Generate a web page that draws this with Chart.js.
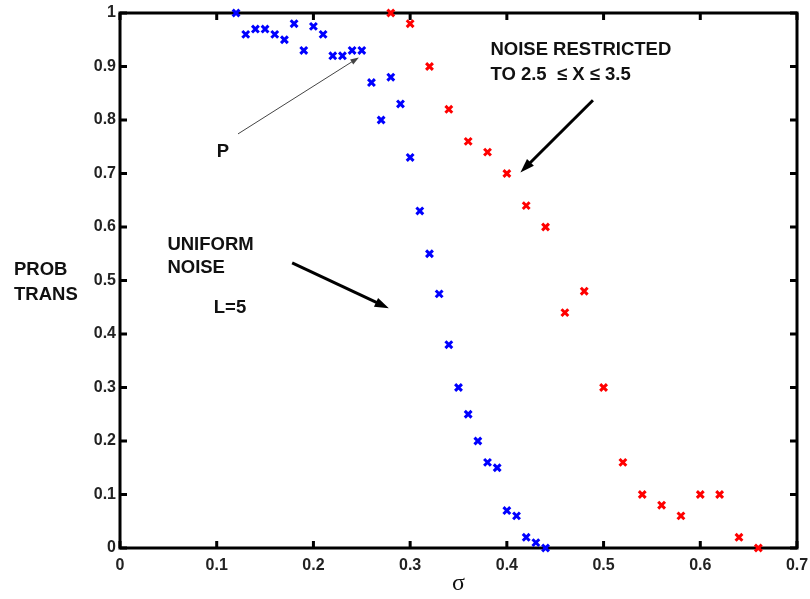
<!DOCTYPE html>
<html lang="en">
<head>
<meta charset="UTF-8">
<title>Prob trans vs sigma</title>
<script src="https://cdn.jsdelivr.net/npm/chart.js"></script>
<style>
  html, body { margin: 0; padding: 0; background: #fff; }
  #wrap { width: 810px; height: 599px; }
</style>
</head>
<body>
<div id="wrap"><canvas id="chart"></canvas></div>
<script>
// data
const uniformSigma = [0.12, 0.13, 0.14, 0.15, 0.16, 0.17, 0.18, 0.19, 0.20, 0.21, 0.22, 0.23, 0.24, 0.25,
                      0.26, 0.27, 0.28, 0.29, 0.30, 0.31, 0.32, 0.33, 0.34, 0.35, 0.36, 0.37, 0.38, 0.39,
                      0.40, 0.41, 0.42, 0.43, 0.44];
const uniformProb  = [1.00, 0.96, 0.97, 0.97, 0.96, 0.95, 0.98, 0.93, 0.975, 0.96, 0.92, 0.92, 0.93, 0.93,
                      0.87, 0.80, 0.88, 0.83, 0.73, 0.63, 0.55, 0.475, 0.38, 0.30, 0.25, 0.20, 0.16, 0.15,
                      0.07, 0.06, 0.02, 0.01, 0.00];
const restrictedSigma = [0.28, 0.30, 0.32, 0.34, 0.36, 0.38, 0.40, 0.42, 0.44, 0.46, 0.48, 0.50,
                         0.52, 0.54, 0.56, 0.58, 0.60, 0.62, 0.64, 0.66];
const restrictedProb  = [1.00, 0.98, 0.90, 0.82, 0.76, 0.74, 0.70, 0.64, 0.60, 0.44, 0.48, 0.30,
                         0.16, 0.10, 0.08, 0.06, 0.10, 0.10, 0.02, 0.00];
const xTicks = [0, 0.1, 0.2, 0.3, 0.4, 0.5, 0.6, 0.7];
const yTicks = [0, 0.1, 0.2, 0.3, 0.4, 0.5, 0.6, 0.7, 0.8, 0.9, 1];

// annotations, in data coordinates
const labels = [
  { text: 'P', x: 0.100, y: 0.740 },
  { text: 'UNIFORM', x: 0.049, y: 0.566 },
  { text: 'NOISE', x: 0.049, y: 0.523 },
  { text: 'L=5', x: 0.097, y: 0.449 },
  { text: 'NOISE RESTRICTED', x: 0.383, y: 0.931 },
  { text: 'TO 2.5  \u2264 X \u2264 3.5', x: 0.383, y: 0.884 }
];
const arrows = [
  { from: [0.122, 0.774], to: [0.247, 0.917], width: 1, head: 9, color: '#444' },
  { from: [0.178, 0.533], to: [0.278, 0.448], width: 3, head: 15, color: '#000' },
  { from: [0.489, 0.837], to: [0.414, 0.702], width: 3, head: 15, color: '#000' }
];

const toPoints = (xs, ys) => xs.map((v, i) => ({ x: v, y: ys[i] }));
const fmt = v => String(Number(v.toFixed(1)));
const tickFont = { family: '"Liberation Sans", Arial, sans-serif', size: 16, weight: 'bold' };
const textFont = 'bold 18.5px "Liberation Sans", Arial, sans-serif';

function drawArrow(ctx, x1, y1, x2, y2, w, head, color) {
  const ang = Math.atan2(y2 - y1, x2 - x1);
  ctx.strokeStyle = color;
  ctx.fillStyle = color;
  ctx.lineWidth = w;
  ctx.beginPath();
  ctx.moveTo(x1, y1);
  ctx.lineTo(x2 - Math.cos(ang) * head * 0.8, y2 - Math.sin(ang) * head * 0.8);
  ctx.stroke();
  ctx.beginPath();
  ctx.moveTo(x2, y2);
  ctx.lineTo(x2 - head * Math.cos(ang - 0.33), y2 - head * Math.sin(ang - 0.33));
  ctx.lineTo(x2 - head * Math.cos(ang + 0.33), y2 - head * Math.sin(ang + 0.33));
  ctx.closePath();
  ctx.fill();
}

const framePlugin = {
  id: 'frame',
  beforeDatasetsDraw(chart) {
    const { ctx, chartArea: a, scales: { x, y } } = chart;
    ctx.save();
    ctx.strokeStyle = '#000';
    ctx.lineWidth = 3;
    ctx.strokeRect(a.left, a.top, a.right - a.left, a.bottom - a.top);
    const len = 7;
    ctx.beginPath();
    xTicks.forEach(v => {
      const px = x.getPixelForValue(v);
      ctx.moveTo(px, a.bottom); ctx.lineTo(px, a.bottom - len);
      ctx.moveTo(px, a.top); ctx.lineTo(px, a.top + len);
    });
    yTicks.forEach(v => {
      const py = y.getPixelForValue(v);
      ctx.moveTo(a.left, py); ctx.lineTo(a.left + len, py);
      ctx.moveTo(a.right, py); ctx.lineTo(a.right - len, py);
    });
    ctx.stroke();
    ctx.restore();
  },
  afterDatasetsDraw(chart) {
    const { ctx, chartArea: a, scales: { x, y } } = chart;
    ctx.save();
    arrows.forEach(ar => drawArrow(ctx,
      x.getPixelForValue(ar.from[0]), y.getPixelForValue(ar.from[1]),
      x.getPixelForValue(ar.to[0]), y.getPixelForValue(ar.to[1]),
      ar.width, ar.head, ar.color));
    ctx.fillStyle = '#111';
    ctx.font = textFont;
    ctx.textAlign = 'left';
    ctx.textBaseline = 'middle';
    labels.forEach(l => ctx.fillText(l.text, x.getPixelForValue(l.x), y.getPixelForValue(l.y)));
    // y axis title, horizontal, left of the ticks
    ctx.fillText('PROB', 14, y.getPixelForValue(0.52));
    ctx.fillText('TRANS', 14, y.getPixelForValue(0.473));
    // x axis title
    ctx.font = '24px "Liberation Serif", "Times New Roman", serif';
    ctx.textAlign = 'center';
    ctx.fillText('\u03c3', x.getPixelForValue(0.35), a.bottom + 36);
    ctx.restore();
  }
};

new Chart(document.getElementById('chart'), {
  type: 'scatter',
  data: {
    datasets: [
      {
        label: 'Uniform noise',
        data: toPoints(uniformSigma, uniformProb),
        pointStyle: 'crossRot',
        pointRadius: 4.8,
        pointBorderWidth: 3,
        borderColor: '#0000ff',
        backgroundColor: '#0000ff',
        clip: false
      },
      {
        label: 'Noise restricted',
        data: toPoints(restrictedSigma, restrictedProb),
        pointStyle: 'crossRot',
        pointRadius: 4.8,
        pointBorderWidth: 3,
        borderColor: '#ff0000',
        backgroundColor: '#ff0000',
        clip: false
      }
    ]
  },
  options: {
    responsive: true,
    maintainAspectRatio: false,
    animation: false,
    layout: { padding: { top: 13, right: 13, left: 0, bottom: 0 } },
    plugins: { legend: { display: false }, tooltip: { enabled: false } },
    scales: {
      x: {
        type: 'linear',
        min: 0,
        max: 0.7,
        afterBuildTicks: s => { s.ticks = xTicks.map(v => ({ value: v })); },
        afterFit: s => { s.height = 51; s.paddingLeft = 0; s.paddingRight = 0; },
        grid: { display: false, drawTicks: false },
        border: { display: false },
        ticks: { color: '#222', font: tickFont, padding: 8, maxRotation: 0, callback: v => fmt(v) }
      },
      y: {
        type: 'linear',
        min: 0,
        max: 1,
        afterBuildTicks: s => { s.ticks = yTicks.map(v => ({ value: v })); },
        afterFit: s => { s.width = 120; s.paddingTop = 0; s.paddingBottom = 0; },
        grid: { display: false, drawTicks: false },
        border: { display: false },
        ticks: { color: '#222', font: tickFont, padding: 4, callback: v => fmt(v) }
      }
    }
  },
  plugins: [framePlugin]
});
</script>
</body>
</html>
